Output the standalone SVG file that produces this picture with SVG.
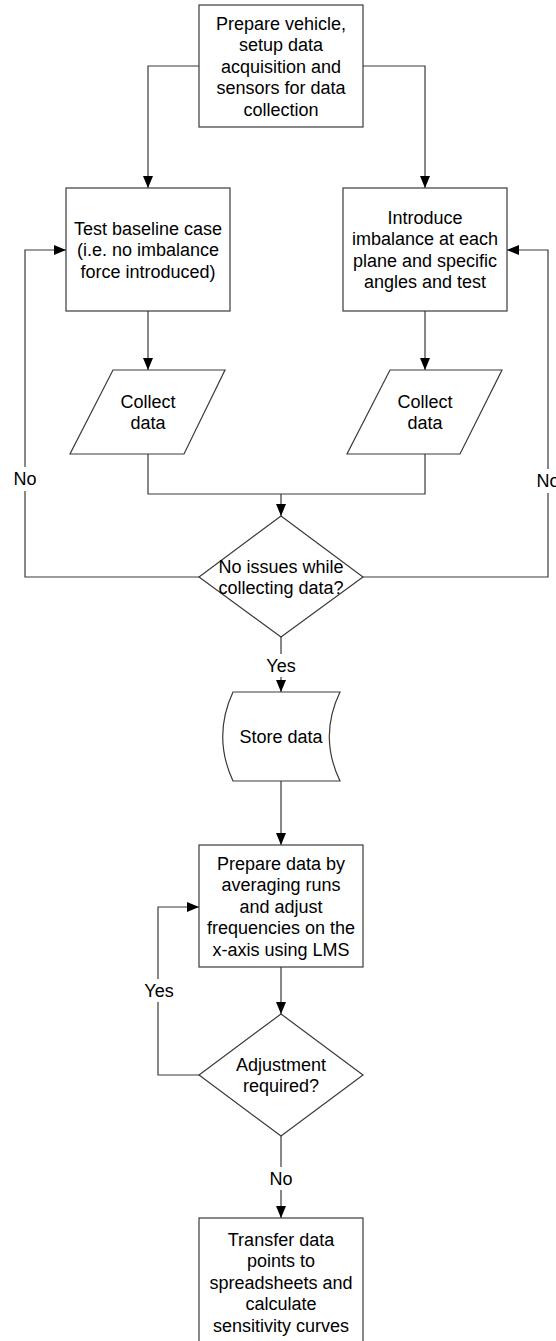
<svg xmlns="http://www.w3.org/2000/svg" width="556" height="1341" viewBox="0 0 556 1341">
  <style>
    .shape { fill: #ffffff; stroke: #3a3a3a; stroke-width: 1.2; }
    .wire { fill: none; stroke: #3a3a3a; stroke-width: 1.2; }
    .txt { font-family: "Liberation Sans", Arial, sans-serif; font-size: 18px; fill: #000000; text-anchor: middle; }
    .lblbg { fill: #ffffff; stroke: none; }
  </style>
  <defs>
    <marker id="arrow" markerUnits="userSpaceOnUse" markerWidth="12" markerHeight="10" refX="12" refY="5" orient="auto">
      <path d="M0,0 L12,5 L0,10 z" fill="#000000"/>
    </marker>
  </defs>
  <rect width="556" height="1341" fill="#ffffff"/>

  <!-- connectors -->
  <g id="connectors">
    <path class="wire" d="M199,66 H148 V188" marker-end="url(#arrow)"/>
    <path class="wire" d="M363,66 H425 V188" marker-end="url(#arrow)"/>
    <path class="wire" d="M148,311 V370" marker-end="url(#arrow)"/>
    <path class="wire" d="M425,311 V370" marker-end="url(#arrow)"/>
    <path class="wire" d="M148,454 V494 H425 V454"/>
    <path class="wire" d="M281,494 V516" marker-end="url(#arrow)"/>
    <path class="wire" d="M199,577 H25 V250 H66" marker-end="url(#arrow)"/>
    <path class="wire" d="M363,577 H548 V250 H507" marker-end="url(#arrow)"/>
    <path class="wire" d="M281,637 V692" marker-end="url(#arrow)"/>
    <path class="wire" d="M281,781 V845" marker-end="url(#arrow)"/>
    <path class="wire" d="M281,967 V1014" marker-end="url(#arrow)"/>
    <path class="wire" d="M199,1075 H158 V907 H199" marker-end="url(#arrow)"/>
    <path class="wire" d="M281,1136 V1218" marker-end="url(#arrow)"/>

    <!-- connector labels -->
    <rect class="lblbg" x="12" y="467" width="26" height="24"/>
    <text class="txt" x="25" y="484.5">No</text>
    <rect class="lblbg" x="535" y="469" width="26" height="24"/>
    <text class="txt" x="548" y="486.5">No</text>
    <rect class="lblbg" x="264" y="654" width="34" height="23"/>
    <text class="txt" x="281" y="671.5">Yes</text>
    <rect class="lblbg" x="142" y="979" width="34" height="23"/>
    <text class="txt" x="159" y="996.5">Yes</text>
    <rect class="lblbg" x="268" y="1167" width="26" height="23"/>
    <text class="txt" x="281" y="1184.5">No</text>
  </g>

  <!-- Prepare vehicle -->
  <g id="prepare-vehicle">
    <rect class="shape" x="199" y="5" width="164" height="122"/>
    <text class="txt" x="281" y="29.5">Prepare vehicle,</text>
    <text class="txt" x="281" y="51">setup data</text>
    <text class="txt" x="281" y="72.5">acquisition and</text>
    <text class="txt" x="281" y="94">sensors for data</text>
    <text class="txt" x="281" y="115.5">collection</text>
  </g>

  <!-- Baseline test -->
  <g id="test-baseline">
    <rect class="shape" x="66" y="188" width="164" height="123"/>
    <text class="txt" x="148" y="234.5">Test baseline case</text>
    <text class="txt" x="148" y="256">(i.e. no imbalance</text>
    <text class="txt" x="148" y="277.5">force introduced)</text>
  </g>

  <!-- Imbalance test -->
  <g id="introduce-imbalance">
    <rect class="shape" x="343" y="188" width="164" height="123"/>
    <text class="txt" x="425" y="223.75">Introduce</text>
    <text class="txt" x="425" y="245.25">imbalance at each</text>
    <text class="txt" x="425" y="266.75">plane and specific</text>
    <text class="txt" x="425" y="288.25">angles and test</text>
  </g>

  <!-- Collect data (baseline) -->
  <g id="collect-data-left">
    <polygon class="shape" points="113,370 225,370 184,454 70,454"/>
    <text class="txt" x="148" y="407.75">Collect</text>
    <text class="txt" x="148" y="429.25">data</text>
  </g>

  <!-- Collect data (imbalance) -->
  <g id="collect-data-right">
    <polygon class="shape" points="390,370 502,370 460,454 347,454"/>
    <text class="txt" x="425" y="407.75">Collect</text>
    <text class="txt" x="425" y="429.25">data</text>
  </g>

  <!-- Decision: issues -->
  <g id="no-issues">
    <polygon class="shape" points="281,516 363,577 281,637 199,577"/>
    <text class="txt" x="281" y="572.75">No issues while</text>
    <text class="txt" x="281" y="594.25">collecting data?</text>
  </g>

  <!-- Stored data -->
  <g id="store-data">
    <path class="shape" d="M233,692 H340 Q318.6,736.5 340,781 H233 Q212.4,736.5 233,692 Z"/>
    <text class="txt" x="281" y="743">Store data</text>
  </g>

  <!-- Prepare data -->
  <g id="prepare-data">
    <rect class="shape" x="199" y="845" width="164" height="122"/>
    <text class="txt" x="281" y="869.5">Prepare data by</text>
    <text class="txt" x="281" y="891">averaging runs</text>
    <text class="txt" x="281" y="912.5">and adjust</text>
    <text class="txt" x="281" y="934">frequencies on the</text>
    <text class="txt" x="281" y="955.5">x-axis using LMS</text>
  </g>

  <!-- Decision: adjustment -->
  <g id="adjustment-required">
    <polygon class="shape" points="281,1014 363,1075 281,1136 199,1075"/>
    <text class="txt" x="281" y="1070.75">Adjustment</text>
    <text class="txt" x="281" y="1092.25">required?</text>
  </g>

  <!-- Transfer data -->
  <g id="transfer-data">
    <rect class="shape" x="199" y="1218" width="164" height="127"/>
    <text class="txt" x="281" y="1245.5">Transfer data</text>
    <text class="txt" x="281" y="1267">points to</text>
    <text class="txt" x="281" y="1288.5">spreadsheets and</text>
    <text class="txt" x="281" y="1310">calculate</text>
    <text class="txt" x="281" y="1331.5">sensitivity curves</text>
  </g>
</svg>
